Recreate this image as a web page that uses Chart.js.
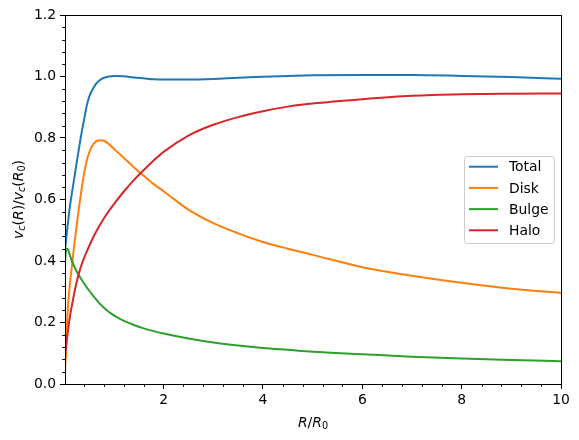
<!DOCTYPE html>
<html>
<head>
<meta charset="utf-8">
<script src="https://cdn.jsdelivr.net/npm/chart.js@4.4.1/dist/chart.umd.min.js"></script>
<style>
  html, body { margin: 0; padding: 0; background: #fff; }
  #wrap { width: 579px; height: 440px; }
</style>
</head>
<body>
<div id="wrap"><canvas id="rc" width="579" height="440"></canvas></div>
<script>
// rotation curve components
const X_VALUES = [0.015, 0.03, 0.05, 0.08, 0.12, 0.16, 0.2, 0.25, 0.3, 0.35, 0.4, 0.45, 0.5, 0.6, 0.7, 0.8, 0.9, 1.0,
                  1.2, 1.4, 1.6, 1.8, 2.0, 2.5, 3.0, 3.5, 4.0, 4.5, 5.0, 6.0, 7.0, 8.0, 9.0, 10.0];
const TOTAL = [0.43, 0.46, 0.49, 0.532, 0.585, 0.627, 0.668, 0.72, 0.77, 0.818, 0.86, 0.903, 0.933, 0.967, 0.986, 0.996, 1.0, 1.002,
               1.001, 0.997, 0.994, 0.991, 0.99, 0.99, 0.992, 0.996, 0.999, 1.002, 1.004, 1.005, 1.005, 1.002, 0.998, 0.993];
const DISK = [0.04, 0.088, 0.18, 0.265, 0.335, 0.392, 0.45, 0.515, 0.578, 0.635, 0.685, 0.724, 0.752, 0.783, 0.793, 0.791, 0.78, 0.765,
              0.735, 0.705, 0.677, 0.65, 0.627, 0.567, 0.523, 0.49, 0.462, 0.44, 0.42, 0.38, 0.352, 0.329, 0.31, 0.296];
const BULGE = [0.39, 0.428, 0.44, 0.435, 0.415, 0.398, 0.383, 0.366, 0.352, 0.339, 0.327, 0.315, 0.304, 0.283, 0.264, 0.248, 0.234, 0.223,
               0.205, 0.192, 0.181, 0.172, 0.164, 0.148, 0.135, 0.125, 0.117, 0.111, 0.105, 0.097, 0.089, 0.083, 0.078, 0.074];
const HALO = [0.085, 0.11, 0.14, 0.18, 0.225, 0.261, 0.294, 0.332, 0.363, 0.388, 0.41, 0.43, 0.448, 0.482, 0.512, 0.539, 0.563, 0.585,
              0.626, 0.663, 0.696, 0.727, 0.755, 0.808, 0.843, 0.868, 0.887, 0.902, 0.912, 0.926, 0.937, 0.942, 0.944, 0.945];

const SERIES_NAMES = ['Total', 'Disk', 'Bulge', 'Halo'];
const X_TICKS = [2, 4, 6, 8, 10];
const Y_TICKS = [0, 0.2, 0.4, 0.6, 0.8, 1.0, 1.2];

const COLORS = ['#1f77b4', '#ff7f0e', '#2ca02c', '#d62728'];
const FONT = '"DejaVu Sans", sans-serif';
const FS = 13.9;

function pts(ys) {
  return X_VALUES.map((x, i) => ({ x, y: ys[i] }));
}

// draw a little mathtext-like run: letters italic, subscripts small & lowered
function mathRun(ctx, parts, cx, baseline) {
  const fontOf = p => `${p.it ? 'italic ' : ''}${p.sub ? FS * 0.7 : FS}px ${FONT}`;
  let w = 0;
  parts.forEach(p => { ctx.font = fontOf(p); p.w = ctx.measureText(p.t).width; w += p.w; });
  let x = cx - w / 2;
  ctx.textAlign = 'left';
  ctx.textBaseline = 'alphabetic';
  parts.forEach(p => {
    ctx.font = fontOf(p);
    ctx.fillText(p.t, x, baseline + (p.sub ? 2.8 : 0));
    x += p.w;
  });
}

const decor = {
  id: 'decor',
  afterDraw(chart) {
    const { ctx, chartArea: a, scales: { x, y } } = chart;
    ctx.save();
    ctx.strokeStyle = '#000';
    ctx.lineWidth = 1;
    ctx.strokeRect(Math.round(a.left) + 0.5, Math.round(a.top) + 0.5,
                   Math.round(a.right - a.left), Math.round(a.bottom - a.top));

    // minor ticks
    ctx.beginPath();
    for (let i = 1; i < 25; i++) {
      if (i % 5 === 0) continue;
      const px = Math.round(x.getPixelForValue(i * 0.4)) + 0.5;
      ctx.moveTo(px, a.bottom);
      ctx.lineTo(px, a.bottom + 2.8);
    }
    for (let i = 1; i < 30; i++) {
      if (i % 5 === 0) continue;
      const py = Math.round(y.getPixelForValue(i * 0.04)) + 0.5;
      ctx.moveTo(a.left, py);
      ctx.lineTo(a.left - 2.8, py);
    }
    ctx.stroke();

    // axis titles
    ctx.fillStyle = '#000';
    mathRun(ctx, [
      { t: 'R', it: true }, { t: '/' }, { t: 'R', it: true }, { t: '0', sub: true }
    ], (a.left + a.right) / 2, 426.5);

    ctx.save();
    ctx.translate(22.5, (a.top + a.bottom) / 2);
    ctx.rotate(-Math.PI / 2);
    mathRun(ctx, [
      { t: 'v', it: true }, { t: 'c', it: true, sub: true }, { t: '(' }, { t: 'R', it: true }, { t: ')' },
      { t: '/' },
      { t: 'v', it: true }, { t: 'c', it: true, sub: true }, { t: '(' }, { t: 'R', it: true },
      { t: '0', sub: true }, { t: ')' }
    ], 0, 0);
    ctx.restore();

    // legend box
    const bx = 464.5, by = 156.5, bw = 90, bh = 87, r = 3;
    ctx.beginPath();
    ctx.moveTo(bx + r, by);
    ctx.arcTo(bx + bw, by, bx + bw, by + bh, r);
    ctx.arcTo(bx + bw, by + bh, bx, by + bh, r);
    ctx.arcTo(bx, by + bh, bx, by, r);
    ctx.arcTo(bx, by, bx + bw, by, r);
    ctx.closePath();
    ctx.fillStyle = 'rgba(255,255,255,0.8)';
    ctx.fill();
    ctx.strokeStyle = '#cccccc';
    ctx.stroke();

    ctx.font = `${FS}px ${FONT}`;
    ctx.textAlign = 'left';
    ctx.textBaseline = 'middle';
    SERIES_NAMES.forEach((name, i) => {
      const ly = 166.7 + i * 21.2;
      ctx.strokeStyle = COLORS[i];
      ctx.lineWidth = 2;
      ctx.beginPath();
      ctx.moveTo(469, ly);
      ctx.lineTo(498, ly);
      ctx.stroke();
      ctx.fillStyle = '#000';
      ctx.fillText(name, 509, ly + 1);
    });
    ctx.restore();
  }
};

const series = [TOTAL, DISK, BULGE, HALO];

new Chart(document.getElementById('rc'), {
  type: 'line',
  data: {
    datasets: series.map((ys, i) => ({
      label: SERIES_NAMES[i],
      data: pts(ys),
      borderColor: COLORS[i],
      backgroundColor: COLORS[i],
      borderWidth: 2,
      pointRadius: 0,
      cubicInterpolationMode: 'monotone',
      fill: false,
      order: 3 - i,
    }))
  },
  options: {
    responsive: false,
    animation: false,
    devicePixelRatio: 1,
    events: [],
    layout: { padding: { left: 0, right: 18, top: 15, bottom: 0 } },
    plugins: { legend: { display: false }, tooltip: { enabled: false } },
    scales: {
      x: {
        type: 'linear',
        min: 0.015,
        max: 10,
        afterBuildTicks: s => { s.ticks = X_TICKS.map(v => ({ value: v })); },
        afterFit: s => { s.height = 56; },
        ticks: { color: '#000', font: { family: FONT, size: FS }, padding: 3, maxRotation: 0,
                 callback: v => String(v) },
        grid: { display: true, drawOnChartArea: false, drawTicks: true, tickLength: 5, tickColor: '#000' },
        border: { display: true, color: '#000', width: 1 }
      },
      y: {
        min: 0,
        max: 1.2,
        afterBuildTicks: s => { s.ticks = Y_TICKS.map(v => ({ value: v })); },
        afterFit: s => { s.width = 65; },
        ticks: { color: '#000', font: { family: FONT, size: FS }, padding: 4,
                 callback: v => Number(v).toFixed(1) },
        grid: { display: true, drawOnChartArea: false, drawTicks: true, tickLength: 5, tickColor: '#000' },
        border: { display: true, color: '#000', width: 1 }
      }
    }
  },
  plugins: [decor]
});
</script>
</body>
</html>
